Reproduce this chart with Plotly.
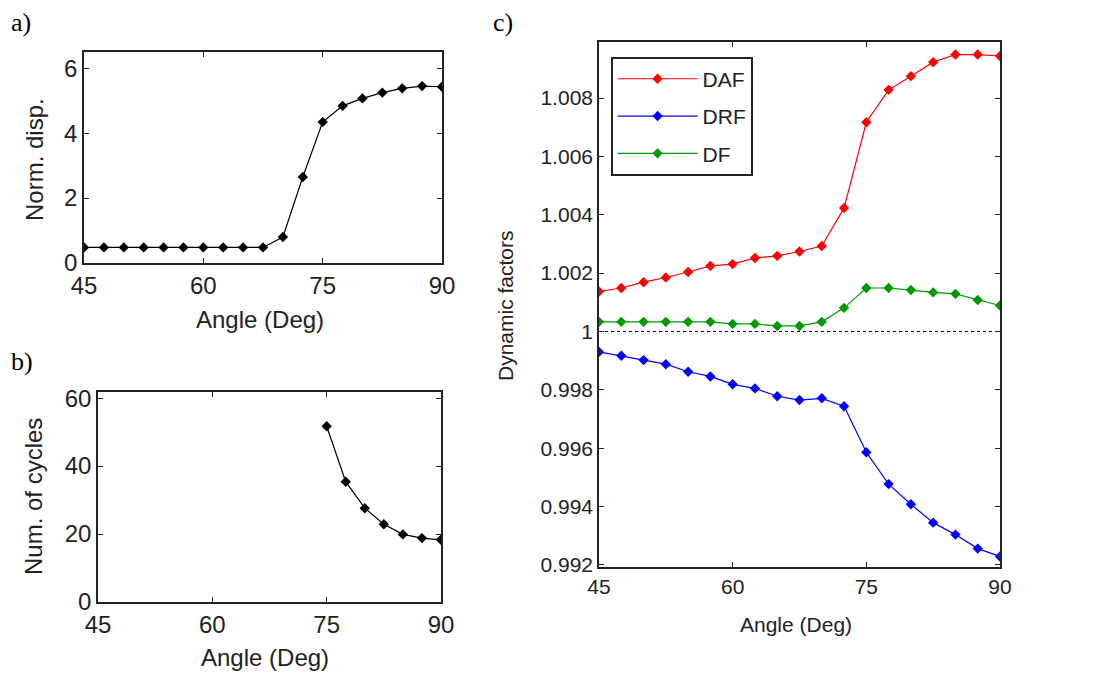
import plotly.graph_objects as go

# Angles (degrees) shared by all panels
angle = [45, 47.5, 50, 52.5, 55, 57.5, 60, 62.5, 65, 67.5, 70,
         72.5, 75, 77.5, 80, 82.5, 85, 87.5, 90]

# a) normalised displacement
norm_disp = [0.48, 0.48, 0.48, 0.48, 0.48, 0.48, 0.48, 0.48, 0.48, 0.48, 0.80,
             2.65, 4.34, 4.84, 5.07, 5.25, 5.38, 5.45, 5.43]

# b) number of cycles (only defined from 75 deg)
cycle_angle = [75, 77.5, 80, 82.5, 85, 87.5, 90]
num_cycles = [51.7, 35.4, 27.6, 22.9, 19.9, 18.8, 18.3]

# c) dynamic factors
daf = [1.00137, 1.00149, 1.00169, 1.00185, 1.00204, 1.00225, 1.00231, 1.00252,
       1.00259, 1.00274, 1.00293, 1.00423, 1.00717, 1.00828, 1.00875, 1.00923,
       1.00949, 1.00949, 1.00944]
drf = [0.99930, 0.99917, 0.99902, 0.99888, 0.99862, 0.99846, 0.99819, 0.99805,
       0.99778, 0.99765, 0.99771, 0.99744, 0.99586, 0.99477, 0.99408, 0.99345,
       0.99304, 0.99256, 0.99229]
df = [1.00033, 1.00033, 1.00033, 1.00033, 1.00033, 1.00033, 1.00026, 1.00026,
      1.00019, 1.00019, 1.00033, 1.00081, 1.00149, 1.00149, 1.00142, 1.00134,
      1.00129, 1.00108, 1.00089]

x_ticks = [45, 60, 75, 90]
W, H = 1099, 675

FONT = "Liberation Sans, Arial, sans-serif"
SERIF = "Liberation Serif, Times New Roman, serif"
INK = "#222222"


def px_x(v):
    return v / W


def px_y(v):
    return 1 - v / H


fig = go.Figure()

marker_kw = dict(symbol="diamond", size=8)

# panel a
fig.add_trace(go.Scatter(x=angle, y=norm_disp, mode="lines+markers",
                         line=dict(color="black", width=1.2),
                         marker=dict(color="black", **marker_kw),
                         xaxis="x", yaxis="y", showlegend=False))
# panel b
fig.add_trace(go.Scatter(x=cycle_angle, y=num_cycles, mode="lines+markers",
                         line=dict(color="black", width=1.2),
                         marker=dict(color="black", **marker_kw),
                         xaxis="x2", yaxis="y2", showlegend=False))
# panel c
series = [("DAF", daf, "#ff0000"), ("DRF", drf, "#0000ff"), ("DF", df, "#009900")]
for name, vals, col in series:
    fig.add_trace(go.Scatter(x=angle, y=vals, mode="lines+markers", name=name,
                             line=dict(color=col, width=1.2),
                             marker=dict(color=col, **marker_kw),
                             legendgroup=name,
                             xaxis="x3", yaxis="y3"))
# reference line at unity
fig.add_trace(go.Scatter(x=[angle[0], angle[-1]], y=[1, 1], mode="lines",
                         line=dict(color="black", width=1.2, dash="dot"),
                         xaxis="x3", yaxis="y3", showlegend=False, hoverinfo="skip"))

axis_common = dict(showline=True, linecolor=INK, linewidth=1.6, mirror="allticks",
                   ticks="inside", ticklen=5, tickwidth=1.2, tickcolor=INK,
                   showgrid=False, zeroline=False, automargin=False,
                   tickfont=dict(family=FONT, size=24, color=INK))
font_c = dict(family=FONT, size=21, color=INK)

layout = dict(
    width=W, height=H,
    margin=dict(l=0, r=0, t=0, b=0, pad=0, autoexpand=False),
    paper_bgcolor="white", plot_bgcolor="white",
    showlegend=True,
    xaxis=dict(domain=[px_x(84), px_x(442)], range=[45, 90], tickvals=x_ticks,
               anchor="y", **axis_common),
    yaxis=dict(domain=[px_y(263), px_y(52)], range=[0, 6.5], tickvals=[0, 2, 4, 6],
               anchor="x", **axis_common),
    xaxis2=dict(domain=[px_x(98), px_x(441)], range=[45, 90], tickvals=x_ticks,
                anchor="y2", **axis_common),
    yaxis2=dict(domain=[px_y(602), px_y(392)], range=[0, 61.8], tickvals=[0, 20, 40, 60],
                anchor="x2", **axis_common),
    xaxis3=dict(domain=[px_x(599), px_x(1000)], range=[45, 90], tickvals=x_ticks,
                anchor="y3", **{**axis_common, "tickfont": font_c}),
    yaxis3=dict(domain=[px_y(567), px_y(42)], range=[0.99193, 1.00992],
                tickvals=[0.992, 0.994, 0.996, 0.998, 1.0, 1.002, 1.004, 1.006, 1.008],
                ticktext=["0.992", "0.994", "0.996", "0.998", "1", "1.002", "1.004", "1.006", "1.008"],
                anchor="x3", **{**axis_common, "tickfont": font_c}),
    legend=dict(x=px_x(611), y=px_y(57), xanchor="left", yanchor="top",
                bgcolor="white", bordercolor=INK, borderwidth=1.6,
                font=dict(family=FONT, size=21, color=INK),
                tracegroupgap=7, itemwidth=80, traceorder="grouped"),
)
fig.update_layout(**layout)

annotations = [
    dict(text="a)", x=px_x(9), y=px_y(22), xanchor="left", yanchor="middle",
         font=dict(family=SERIF, size=26, color="black")),
    dict(text="b)", x=px_x(9), y=px_y(361), xanchor="left", yanchor="middle",
         font=dict(family=SERIF, size=26, color="black")),
    dict(text="c)", x=px_x(491), y=px_y(22), xanchor="left", yanchor="middle",
         font=dict(family=SERIF, size=26, color="black")),
    dict(text="Angle (Deg)", x=px_x(260), y=px_y(319), xanchor="center", yanchor="middle",
         font=dict(family=FONT, size=24, color=INK)),
    dict(text="Angle (Deg)", x=px_x(265), y=px_y(657), xanchor="center", yanchor="middle",
         font=dict(family=FONT, size=24, color=INK)),
    dict(text="Angle (Deg)", x=px_x(796), y=px_y(624), xanchor="center", yanchor="middle",
         font=font_c),
    dict(text="Norm. disp.", x=px_x(34), y=px_y(160), xanchor="center", yanchor="middle",
         textangle=-90, font=dict(family=FONT, size=24, color=INK)),
    dict(text="Num. of cycles", x=px_x(33), y=px_y(497), xanchor="center", yanchor="middle",
         textangle=-90, font=dict(family=FONT, size=24, color=INK)),
    dict(text="Dynamic factors", x=px_x(505), y=px_y(306), xanchor="center", yanchor="middle",
         textangle=-90, font=font_c),
]
for a in annotations:
    a.update(xref="paper", yref="paper", showarrow=False)
fig.update_layout(annotations=annotations)

fig.write_html("out.html")
